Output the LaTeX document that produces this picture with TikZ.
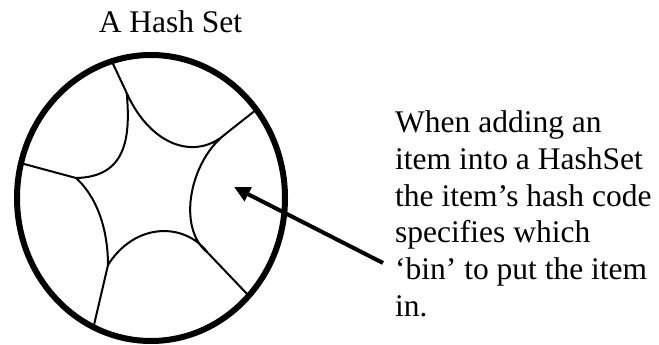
\documentclass[tikz,border=0pt]{standalone}
\usepackage{fontspec}
\setmainfont{Liberation Serif}
\usetikzlibrary{arrows.meta, shapes.geometric}

\begin{document}
\begin{tikzpicture}[
    x=1pt, y=1pt,
    >={Triangle[length=16pt, width=15pt]},
    every node/.style={font=\fontsize{31.5}{36.8}\selectfont, inner sep=0pt},
    hashset/.style={draw, ellipse, line width=6pt, outer sep=0pt,
                    minimum width=268pt, minimum height=286pt},
    bin/.style    ={line width=2pt},
    note/.style   ={align=left, anchor=north west},
    point/.style  ={->, line width=4pt},
]
\useasboundingbox (0,0) rectangle (659,345);
% --- the set and its title ---
\node[hashset] (set) at (151,147) {};
\node[anchor=base] (title) at (170.5,312) {A Hash Set};

% --- the bins: a five-pointed middle with spokes to the rim ---
\coordinate (v1) at (126.7,252);
\coordinate (v2) at (226.7,212);
\coordinate (v3) at (208,92);
\coordinate (v4) at (108,80);
\coordinate (v5) at (76,167);
\draw[bin] (set.106) -- (v1);
\draw[bin] (set.40)  -- (v2);
\draw[bin] (set.315) -- (v3);
\draw[bin] (set.246) -- (v4);
\draw[bin] (set.165) -- (v5);
\draw[bin] (v1) .. controls (150,200) and (195,183) .. (v2)
                .. controls (190,185) and (176,117) .. (v3)
                .. controls (185,123) and (135,123) .. (v4)
                .. controls (108,110) and (100,145) .. (v5)
                .. controls (125,168) and (131,205) .. (v1);

% --- the explanation, pointing into one bin ---
\node[note] (note) at (395,234.5)
     {When adding an\\item into a HashSet\\the item’s hash code\\specifies which\\‘bin’ to put the item\\in.};
\coordinate (tail) at (383,82);
\coordinate (spot) at (234,158);
\draw[point] (tail) -- (spot);
\end{tikzpicture}
\end{document}
